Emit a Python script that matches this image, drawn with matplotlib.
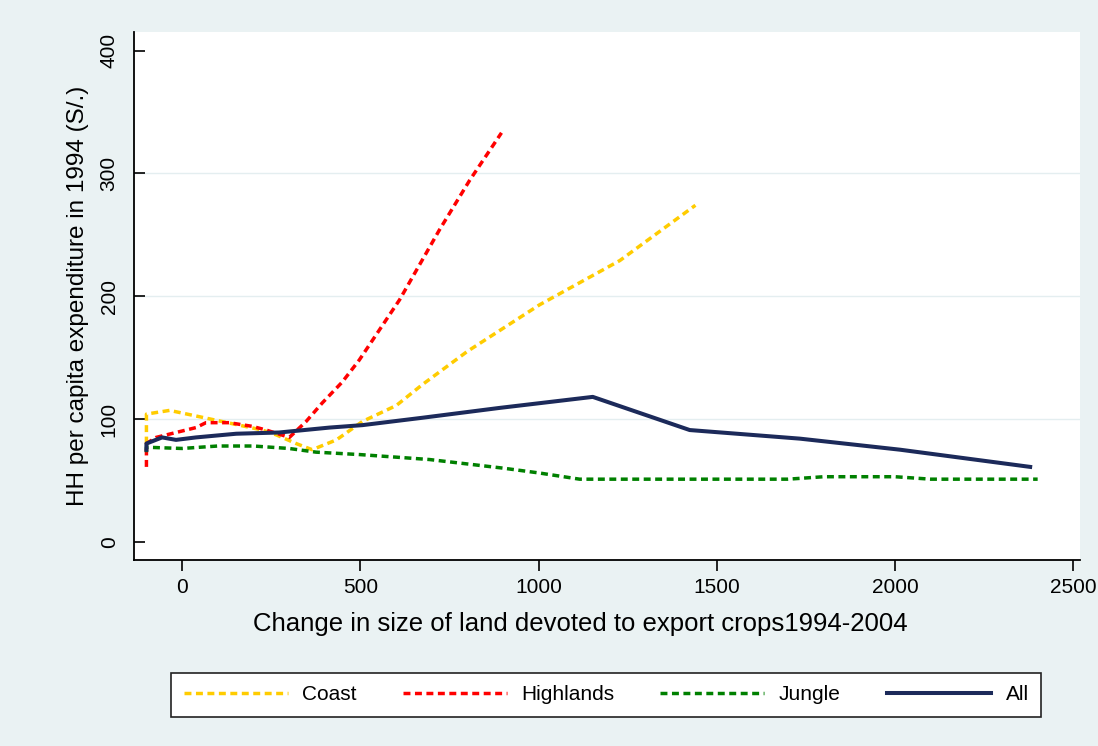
import matplotlib
matplotlib.use('Agg')
import matplotlib.pyplot as plt

plt.rcParams['font.family'] = ['Liberation Sans', 'DejaVu Sans']

# data
coast_x = [-100, -100, -35, 95, 225, 265, 320, 365, 433, 506, 601, 674, 800, 1003, 1228, 1440]
coast_y = [80, 104, 107, 99, 91, 87, 80, 75, 83, 98, 111, 128, 155, 193, 229, 274]

high_x = [-100, -100, -73, -17, 39, 67, 132, 197, 236, 301, 348, 393, 449, 497, 610, 722, 806, 896]
high_y = [61, 80, 85, 89, 93, 97, 97, 94, 91, 85, 98, 113, 130, 148, 197, 254, 294, 333]

jungle_x = [-100, -100, 0, 100, 200, 300, 376, 500, 694, 900, 1003, 1115, 1300, 1500, 1700, 1800, 2000, 2100, 2400]
jungle_y = [73, 77, 76, 78, 78, 76, 73, 71, 67, 60, 56, 51, 51, 51, 51, 53, 53, 51, 51]

all_x = [-100, -100, -56, -17, 39, 152, 272, 413, 506, 674, 890, 1152, 1424, 1733, 2014, 2379]
all_y = [75, 80, 85, 83, 85, 88, 89, 93, 95, 101, 109, 118, 91, 84, 75, 61]

bg = '#eaf2f3'
fig = plt.figure(figsize=(10.98, 7.46), dpi=100, facecolor=bg)
ax = fig.add_axes([0.122, 0.249, 0.862, 0.708])
ax.set_facecolor('white')

ax.plot(coast_x, coast_y, color='#ffcc00', lw=2.5, dashes=(2, 1.3), label='Coast')
ax.plot(high_x, high_y, color='#ff0000', lw=2.5, dashes=(2, 1.3), label='Highlands')
ax.plot(jungle_x, jungle_y, color='#008000', lw=2.5, dashes=(2, 1.3), label='Jungle')
ax.plot(all_x, all_y, color='#1c2a5a', lw=2.9, label='All')

ax.set_xlim(-135, 2520)
ax.set_ylim(-15, 415)
ax.set_xticks([0, 500, 1000, 1500, 2000, 2500])
ax.set_yticks([0, 100, 200, 300, 400])
for v in [100, 200, 300]:
    ax.axhline(v, color='#e4eef0', lw=1, zorder=0)

for s in ['top', 'right']:
    ax.spines[s].set_visible(False)
ax.spines['left'].set_linewidth(1.3)
ax.spines['bottom'].set_linewidth(1.3)
ax.tick_params(axis='y', direction='in', length=8, width=1.2, labelsize=15,
               labelrotation=90, pad=11)
ax.tick_params(axis='x', length=8, width=1.2, labelsize=15, pad=5)
for lab in ax.get_yticklabels():
    lab.set_va('center')

ax.set_ylabel('HH per capita expenditure in 1994 (S/.)', fontsize=17.5, labelpad=8)
ax.set_xlabel('Change in size of land devoted to export crops1994-2004', fontsize=18.5)
ax.xaxis.set_label_coords(0.472, -0.098, transform=ax.transAxes)

leg = ax.legend(loc='center', bbox_to_anchor=(0.552, 0.069), bbox_transform=fig.transFigure,
                ncol=4, fontsize=15, frameon=True, fancybox=False, framealpha=1,
                edgecolor='#222222', handlelength=5.0, columnspacing=2.2,
                handletextpad=0.7, borderpad=0.6)
leg.get_frame().set_linewidth(1.2)

fig.savefig('out.png', dpi=100, facecolor=bg)
